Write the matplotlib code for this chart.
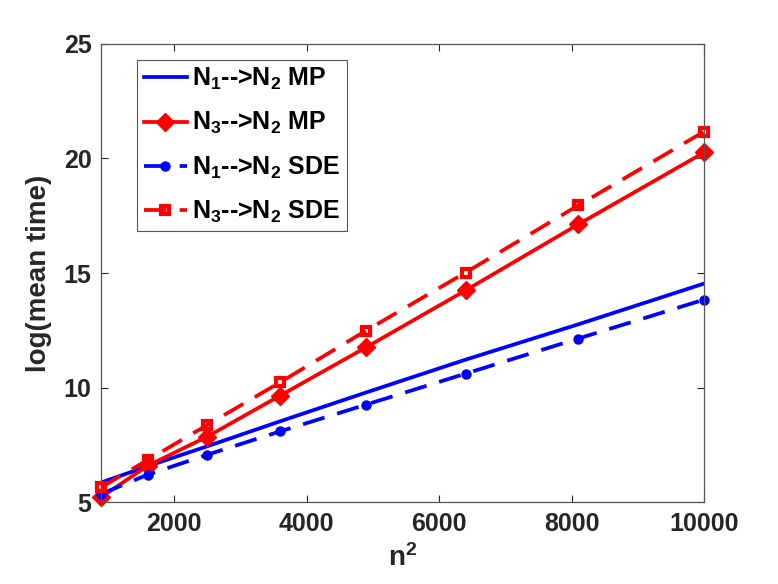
import matplotlib
matplotlib.use("Agg")
import matplotlib.pyplot as plt

plt.rcParams['font.family'] = ['Liberation Sans', 'DejaVu Sans']
plt.rcParams['font.weight'] = 'bold'
plt.rcParams['mathtext.fontset'] = 'custom'
plt.rcParams['mathtext.rm'] = 'Liberation Sans:bold'
plt.rcParams['mathtext.bf'] = 'Liberation Sans:bold'
plt.rcParams['mathtext.it'] = 'Liberation Sans:bold'
plt.rcParams['mathtext.default'] = 'rm'

# n^2 values for n = 30..100
n2 = [900, 1600, 2500, 3600, 4900, 6400, 8100, 10000]

mp_13 = [5.86, 6.57, 7.44, 8.53, 9.79, 11.22, 12.76, 14.54]    # N1-->N2 MP
mp_32 = [5.22, 6.59, 7.86, 9.65, 11.76, 14.24, 17.12, 20.26]   # N3-->N2 MP
sde_12 = [5.36, 6.20, 7.07, 8.09, 9.26, 10.61, 12.14, 13.84]   # N1-->N2 SDE
sde_32 = [5.65, 6.84, 8.37, 10.23, 12.49, 15.02, 17.95, 21.17] # N3-->N2 SDE

labels = [r'N$_{1}$-->N$_{2}$ MP', r'N$_{3}$-->N$_{2}$ MP',
          r'N$_{1}$-->N$_{2}$ SDE', r'N$_{3}$-->N$_{2}$ SDE']

xticks = [2000, 4000, 6000, 8000, 10000]
yticks = [5, 10, 15, 20, 25]

grey = '#262626'
lw = 2.7

fig = plt.figure(figsize=(7.78, 5.84), dpi=100)
ax = fig.add_axes([0.130, 0.140, 0.775, 0.785])

ax.plot(n2, mp_13, color='#0000ff', lw=lw, label=labels[0])
ax.plot(n2, mp_32, color='#ff0000', lw=lw, marker='D', ms=9,
        label=labels[1], clip_on=False)
ax.plot(n2, sde_12, color='#0000ff', lw=lw, ls=(0, (6, 3.5)), marker='o', ms=6.5,
        label=labels[2], clip_on=False)
ax.plot(n2, sde_32, color='#ff0000', lw=lw, ls=(0, (6, 3.5)), marker='s', ms=6,
        mfc='none', mew=3, label=labels[3], clip_on=False)

ax.set_xlim(900, 10000)
ax.set_ylim(5, 25)
ax.set_xticks(xticks)
ax.set_yticks(yticks)
ax.tick_params(direction='in', length=5, width=0.8, top=True, right=True,
               colors=grey, labelsize=18, pad=7)
for s in ax.spines.values():
    s.set_color('#555555')
    s.set_linewidth(0.9)

ax.set_xlabel(r'n$^{2}$', fontsize=20, fontweight='bold', color=grey, labelpad=6)
ax.set_ylabel('log(mean time)', fontsize=20, fontweight='bold', color=grey, labelpad=8)

leg = ax.legend(loc='upper left', bbox_to_anchor=(0.06, 0.965), borderaxespad=0,
                fontsize=18, handlelength=1.75, labelspacing=0.72,
                handletextpad=0.2, borderpad=0.25, fancybox=False, framealpha=1)
leg.get_frame().set_edgecolor('#555555')
leg.get_frame().set_linewidth(0.8)

fig.savefig('out.png', dpi=100)
